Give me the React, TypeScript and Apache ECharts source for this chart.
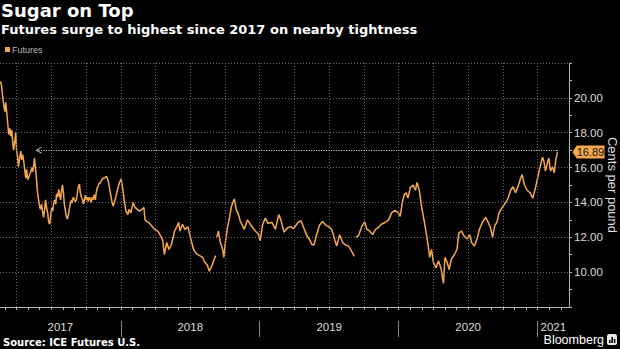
import React, { useEffect, useRef } from 'react';
import * as echarts from 'echarts';

// ---- data (ICE No.11 sugar futures, cents per pound) ----
const dates: string[] = [
  '2017-02-18','2017-02-21','2017-02-23','2017-02-26','2017-03-01','2017-03-03','2017-03-06','2017-03-09','2017-03-11','2017-03-14',
  '2017-03-16','2017-03-19','2017-03-22','2017-03-24','2017-03-27','2017-03-30','2017-04-01','2017-04-04','2017-04-06','2017-04-09',
  '2017-04-12','2017-04-14','2017-04-17','2017-04-20','2017-04-22','2017-04-25','2017-04-27','2017-04-30','2017-05-03','2017-05-05',
  '2017-05-08','2017-05-11','2017-05-13','2017-05-16','2017-05-18','2017-05-21','2017-05-24','2017-05-26','2017-05-29','2017-06-01',
  '2017-06-03','2017-06-06','2017-06-08','2017-06-11','2017-06-14','2017-06-16','2017-06-19','2017-06-22','2017-06-24','2017-06-27',
  '2017-06-30','2017-07-02','2017-07-05','2017-07-07','2017-07-10','2017-07-13','2017-07-15','2017-07-18','2017-07-21','2017-07-23',
  '2017-07-26','2017-07-28','2017-07-31','2017-08-03','2017-08-05','2017-08-08','2017-08-11','2017-08-13','2017-08-16','2017-08-18',
  '2017-08-21','2017-08-24','2017-08-26','2017-08-29','2017-09-01','2017-09-03','2017-09-06','2017-09-08','2017-09-11','2017-09-14',
  '2017-09-16','2017-09-19','2017-09-22','2017-09-24','2017-09-27','2017-09-29','2017-10-02','2017-10-05','2017-10-07','2017-10-10',
  '2017-10-13','2017-10-15','2017-10-18','2017-10-20','2017-10-23','2017-10-26','2017-10-28','2017-10-31','2017-11-03','2017-11-05',
  '2017-11-08','2017-11-13','2017-11-18','2017-11-24','2017-11-29','2017-12-04','2017-12-09','2017-12-12','2017-12-17','2017-12-23',
  '2017-12-28','2018-01-02','2018-01-07','2018-01-10','2018-01-15','2018-01-20','2018-01-23','2018-01-28','2018-02-03','2018-02-08',
  '2018-02-13','2018-02-18','2018-02-24','2018-03-01','2018-03-04','2018-03-09','2018-03-14','2018-03-22','2018-03-30','2018-04-07',
  '2018-04-15','2018-04-20','2018-04-24','2018-04-30','2018-05-06','2018-05-13','2018-05-21','2018-05-27','2018-06-01','2018-06-04',
  '2018-06-11','2018-06-17','2018-06-25','2018-06-30','2018-07-05','2018-07-10','2018-07-18','2018-07-26','2018-08-03','2018-08-08',
  '2018-08-16','2018-08-21','2018-08-29','2018-09-03','2018-09-07','2018-09-09','2018-09-10','2018-09-14','2018-09-19','2018-09-25',
  '2018-09-28','2018-10-02','2018-10-08','2018-10-13','2018-10-18','2018-10-23','2018-10-26','2018-10-31','2018-11-06','2018-11-11',
  '2018-11-16','2018-11-21','2018-11-29','2018-12-07','2018-12-15','2018-12-23','2018-12-28','2019-01-02','2019-01-09','2019-01-16',
  '2019-01-23','2019-02-03','2019-02-11','2019-02-19','2019-02-24','2019-03-04','2019-03-14','2019-03-22','2019-03-30','2019-04-10',
  '2019-04-18','2019-04-25','2019-05-03','2019-05-11','2019-05-16','2019-05-22','2019-05-30','2019-06-06','2019-06-14','2019-06-22',
  '2019-06-30','2019-07-08','2019-07-16','2019-07-21','2019-07-29','2019-08-06','2019-08-14','2019-08-22','2019-08-30','2019-09-06',
  '2019-09-09','2019-09-10','2019-09-17','2019-09-26','2019-10-03','2019-10-09','2019-10-17','2019-10-24','2019-11-01','2019-11-08',
  '2019-11-16','2019-11-26','2019-12-05','2019-12-13','2019-12-22','2019-12-31','2020-01-05','2020-01-11','2020-01-16','2020-01-21',
  '2020-01-26','2020-02-01','2020-02-08','2020-02-14','2020-02-18','2020-02-24','2020-02-29','2020-03-08','2020-03-12','2020-03-18',
  '2020-03-22','2020-03-27','2020-04-01','2020-04-08','2020-04-14','2020-04-21','2020-04-27','2020-05-01','2020-05-07','2020-05-12',
  '2020-05-18','2020-05-26','2020-06-02','2020-06-07','2020-06-14','2020-06-21','2020-06-29','2020-07-05','2020-07-10','2020-07-18',
  '2020-07-26','2020-07-31','2020-08-08','2020-08-17','2020-08-24','2020-08-30','2020-09-04','2020-09-10','2020-09-16','2020-09-21',
  '2020-09-29','2020-10-09','2020-10-15','2020-10-22','2020-10-28','2020-11-04','2020-11-10','2020-11-17','2020-11-21','2020-11-27',
  '2020-12-04','2020-12-12','2020-12-19','2020-12-24','2020-12-29','2021-01-05','2021-01-09','2021-01-14','2021-01-18','2021-01-22',
  '2021-01-27','2021-01-31','2021-02-04','2021-02-09','2021-02-13','2021-02-17','2021-02-21',
];

const prices: (number | null)[] = [
  20.95,20.67,20.15,19.6,19.2,19.75,19.1,18.4,17.9,18.25,
  17.8,18.15,17.4,17.0,17.45,18.0,17.0,16.55,16.05,16.55,
  16.95,16.45,16.75,16.3,15.9,15.4,15.9,15.3,15.45,15.6,
  15.75,16.0,15.75,16.1,16.55,15.9,15.2,14.6,14.15,13.75,
  13.6,13.9,13.5,13.15,13.6,14.15,13.7,13.35,12.9,12.75,
  13.3,13.7,13.5,13.9,14.15,13.9,14.5,14.3,14.75,14.45,
  14.15,14.6,15.0,14.45,13.9,13.5,13.15,13.05,13.3,13.6,
  13.9,14.15,14.0,14.3,14.15,14.05,14.15,14.45,14.9,15.05,
  14.6,14.3,14.15,13.9,14.15,14.4,14.15,14.3,14.05,14.3,
  14.15,14.0,14.3,14.15,14.45,14.15,14.5,14.85,14.95,15.1,
  15.1,15.35,15.4,15.5,15.2,14.55,14.0,13.8,14.15,14.7,
  15.1,15.35,14.7,14.15,13.5,13.3,13.6,13.4,14.0,13.7,
  13.6,13.5,13.6,13.7,13.0,12.9,12.85,12.65,12.45,12.35,
  12.05,11.8,11.0,11.7,11.3,11.6,12.35,12.6,12.85,12.35,
  12.75,12.45,12.6,12.15,11.7,11.3,11.05,10.95,10.85,10.6,
  10.4,10.05,10.4,10.75,10.95,null,12.0,12.35,11.7,11.3,
  10.85,11.7,12.6,13.1,13.75,14.05,14.2,13.6,13.3,12.9,
  12.7,12.45,13.0,12.75,12.5,12.3,12.2,11.8,12.75,13.1,
  12.8,12.85,12.45,13.3,13.0,12.3,12.55,12.6,12.5,12.85,
  12.95,12.55,12.1,11.85,11.6,11.55,12.2,12.7,12.9,12.7,
  12.6,12.45,11.85,11.5,12.15,11.7,11.55,11.5,11.2,10.9,
  null,12.0,12.1,12.65,12.9,12.45,12.35,12.15,12.45,12.55,
  12.75,12.85,13.0,13.4,13.55,13.4,13.2,14.0,14.45,14.55,
  14.25,14.85,15.0,14.7,15.15,14.65,13.8,12.85,12.35,11.5,
  10.85,11.3,10.55,10.25,10.65,10.2,9.35,10.85,10.55,10.15,
  10.75,11.0,11.3,12.25,12.35,12.05,11.9,12.15,11.7,11.5,
  12.0,12.45,12.85,13.15,12.85,12.55,12.0,12.65,12.9,13.4,
  13.7,14.0,14.25,14.7,14.9,14.55,14.9,15.4,15.6,15.0,
  14.7,14.55,14.25,14.65,15.1,15.8,16.15,16.6,16.35,15.8,
  16.25,16.55,15.8,16.05,15.7,16.45,16.89,
];

const years = [2017, 2018, 2019, 2020, 2021];
const axisStart = '2017-02-17';
const axisEnd = '2021-03-23';
const refLevel = 17.0; // dotted "highest since" reference line
const refFrom = '2017-05-29';
const yMin = 8;
const yMax = 22;
const yStep = 2;
const yAxisTitle = 'Cents per pound';

const ORANGE = '#f7a84c';
const GRID = '#6a6a6a';
const AXIS = '#b4b4b4';
const FONT = '"Liberation Sans", Arial, sans-serif';

// month index (0 = Jan 2017), fractional within month
function toM(s: string): number {
  const [y, m, d] = s.split('-').map(Number);
  const dim = new Date(Date.UTC(y, m, 0)).getUTCDate();
  return (y - 2017) * 12 + (m - 1) + (d - 1) / dim;
}

const CHEVRON = 'path://M0,10 L5,0 L10,10 L8.6,10 L5,2.6 L1.4,10 Z';
const TAG = 'path://M0,5 L4,0 L30,0 L30,10 L4,10 Z';

export default function App() {
  const ref = useRef<HTMLDivElement>(null);

  useEffect(() => {
    if (!ref.current) return;
    const chart = echarts.init(ref.current, null, { renderer: 'svg' });

    const xMin = toM(axisStart);
    const xMax = toM(axisEnd);
    const seriesData = dates.map((d, i) => [toM(d), prices[i] == null ? '-' : prices[i]]);
    const lastDate = dates[dates.length - 1];
    const lastPrice = prices[prices.length - 1] as number;
    const lastX = toM(lastDate);

    const monthTicks: number[] = [];
    for (let m = Math.ceil(xMin); m <= xMax; m++) monthTicks.push(m);
    const quarterTicks = monthTicks.filter((m) => m % 3 === 0);
    const yearStarts = years.map((y) => toM(`${y}-01-01`)).filter((v) => v > xMin && v < xMax);
    const yearMids = years.map((y) => {
      const a = Math.max(xMin, toM(`${y}-01-01`));
      const b = Math.min(xMax, toM(`${y + 1}-01-01`));
      return (a + b) / 2;
    });

    const dotted = { color: GRID, type: [1, 2], width: 1 };

    const option: any = {
      backgroundColor: '#000',
      animation: false,
      textStyle: { fontFamily: FONT },
      title: {
        text: 'Sugar on Top',
        subtext: 'Futures surge to highest since 2017 on nearby tightness',
        left: 1,
        top: 1,
        padding: 0,
        itemGap: 4,
        textStyle: { color: '#fff', fontFamily: '"DejaVu Sans"', fontWeight: 'bold', fontSize: 18 },
        subtextStyle: { color: '#fff', fontFamily: '"DejaVu Sans"', fontWeight: 'bold', fontSize: 13 },
      },
      legend: {
        data: ['Futures'],
        left: 5,
        top: 45,
        padding: 0,
        icon: 'rect',
        itemWidth: 5,
        itemHeight: 5,
        textStyle: { color: '#bbb', fontSize: 9, fontFamily: FONT, padding: [0, 0, 0, -3] },
      },
      grid: { left: 0, right: 51, top: 63, bottom: 42, containLabel: false, outerBoundsMode: 'none' },
      xAxis: [
        {
          type: 'value',
          min: xMin,
          max: xMax,
          position: 'bottom',
          axisLine: { show: true, onZero: false, lineStyle: { color: AXIS, width: 1 } },
          axisTick: { show: true, customValues: monthTicks, length: 3, lineStyle: { color: AXIS } },
          axisLabel: {
            customValues: yearMids,
            formatter: (v: number) => String(2017 + Math.floor(v / 12)),
            color: '#ddd',
            fontSize: 11.5,
            fontFamily: FONT,
            margin: 14,
          },
          splitLine: { show: false },
        },
        {
          type: 'value',
          min: xMin,
          max: xMax,
          position: 'bottom',
          offset: 14,
          axisLine: { show: false, onZero: false },
          axisTick: { show: true, customValues: yearStarts, length: 16, lineStyle: { color: '#888' } },
          axisLabel: { show: false },
          splitLine: { show: false },
        },
      ],
      yAxis: {
        type: 'value',
        position: 'right',
        min: yMin,
        max: yMax,
        interval: yStep,
        axisLine: { show: true, onZero: false, lineStyle: { color: AXIS } },
        axisTick: { show: true, length: 3, lineStyle: { color: AXIS } },
        minorTick: { show: true, splitNumber: 2, length: 3, lineStyle: { color: AXIS } },
        axisLabel: {
          formatter: (v: number) => v.toFixed(2),
          showMinLabel: false,
          showMaxLabel: false,
          color: '#ddd',
          fontSize: 11.5,
          fontFamily: FONT,
          margin: 5,
        },
        splitLine: { show: true, lineStyle: dotted },
      },
      series: [
        {
          name: 'Futures',
          type: 'line',
          z: 3,
          data: seriesData,
          showSymbol: false,
          symbol: 'none',
          connectNulls: false,
          lineStyle: { color: ORANGE, width: 1.5 },
          itemStyle: { color: ORANGE },
          markLine: {
            silent: true,
            label: { show: false },
            symbol: ['none', 'none'],
            lineStyle: { color: '#e6e6e6', type: [1, 1.5], width: 1 },
            data: [
              ...quarterTicks.map((v) => ({ xAxis: v, lineStyle: dotted })),
              { yAxis: yMin, lineStyle: { color: AXIS, type: 'solid', width: 1 } },
              [
                { coord: [toM(refFrom), refLevel], symbol: CHEVRON, symbolSize: [7, 6] },
                { coord: [lastX, refLevel], symbol: 'none' },
              ],
              [
                { coord: [lastX, refLevel], symbol: 'none' },
                { coord: [lastX, lastPrice], symbol: 'none' },
              ],
            ],
          },
          markPoint: {
            silent: true,
            symbol: TAG,
            symbolSize: [32, 13],
            symbolOffset: [31, 0],
            itemStyle: { color: ORANGE },
            label: {
              show: true,
              position: 'inside',
              offset: [2, 0],
              formatter: () => lastPrice.toFixed(2),
              color: '#111',
              fontSize: 11,
              fontFamily: FONT,
            },
            data: [{ coord: [lastX, lastPrice], value: lastPrice }],
          },
        },
      ],
      graphic: [
        {
          type: 'text',
          x: 612,
          y: 185,
          rotation: -Math.PI / 2,
          style: {
            text: yAxisTitle,
            fill: '#ddd',
            fontSize: 13,
            fontFamily: FONT,
            align: 'center',
            verticalAlign: 'middle',
            textAlign: 'center',
            textVerticalAlign: 'middle',
          },
        },
        {
          type: 'text',
          x: 3,
          y: 342,
          style: {
            text: 'Source: ICE Futures U.S.',
            fill: '#fff',
            fontSize: 10,
            fontWeight: 'bold',
            fontFamily: '"DejaVu Sans"',
            align: 'left',
            verticalAlign: 'middle',
            textAlign: 'left',
            textVerticalAlign: 'middle',
          },
        },
        {
          type: 'text',
          x: 604,
          y: 340,
          style: {
            text: 'Bloomberg',
            fill: '#fff',
            fontSize: 12.5,
            fontFamily: FONT,
            align: 'right',
            verticalAlign: 'middle',
            textAlign: 'right',
            textVerticalAlign: 'middle',
          },
        },
        {
          type: 'group',
          x: 607,
          y: 334,
          children: [
            { type: 'rect', shape: { x: 0, y: 0, width: 10, height: 11, r: 2 }, style: { fill: '#e8e8e8' } },
            { type: 'rect', shape: { x: 2, y: 6, width: 1.6, height: 3 }, style: { fill: '#000' } },
            { type: 'rect', shape: { x: 4.4, y: 3, width: 1.6, height: 6 }, style: { fill: '#000' } },
            { type: 'rect', shape: { x: 6.8, y: 5, width: 1.6, height: 4 }, style: { fill: '#000' } },
          ],
        },
      ],
    };

    chart.setOption(option);
    return () => chart.dispose();
  }, []);

  return (
    <div
      ref={ref}
      style={{ position: 'fixed', left: 0, top: 0, width: 620, height: 349, background: '#000' }}
    />
  );
}
